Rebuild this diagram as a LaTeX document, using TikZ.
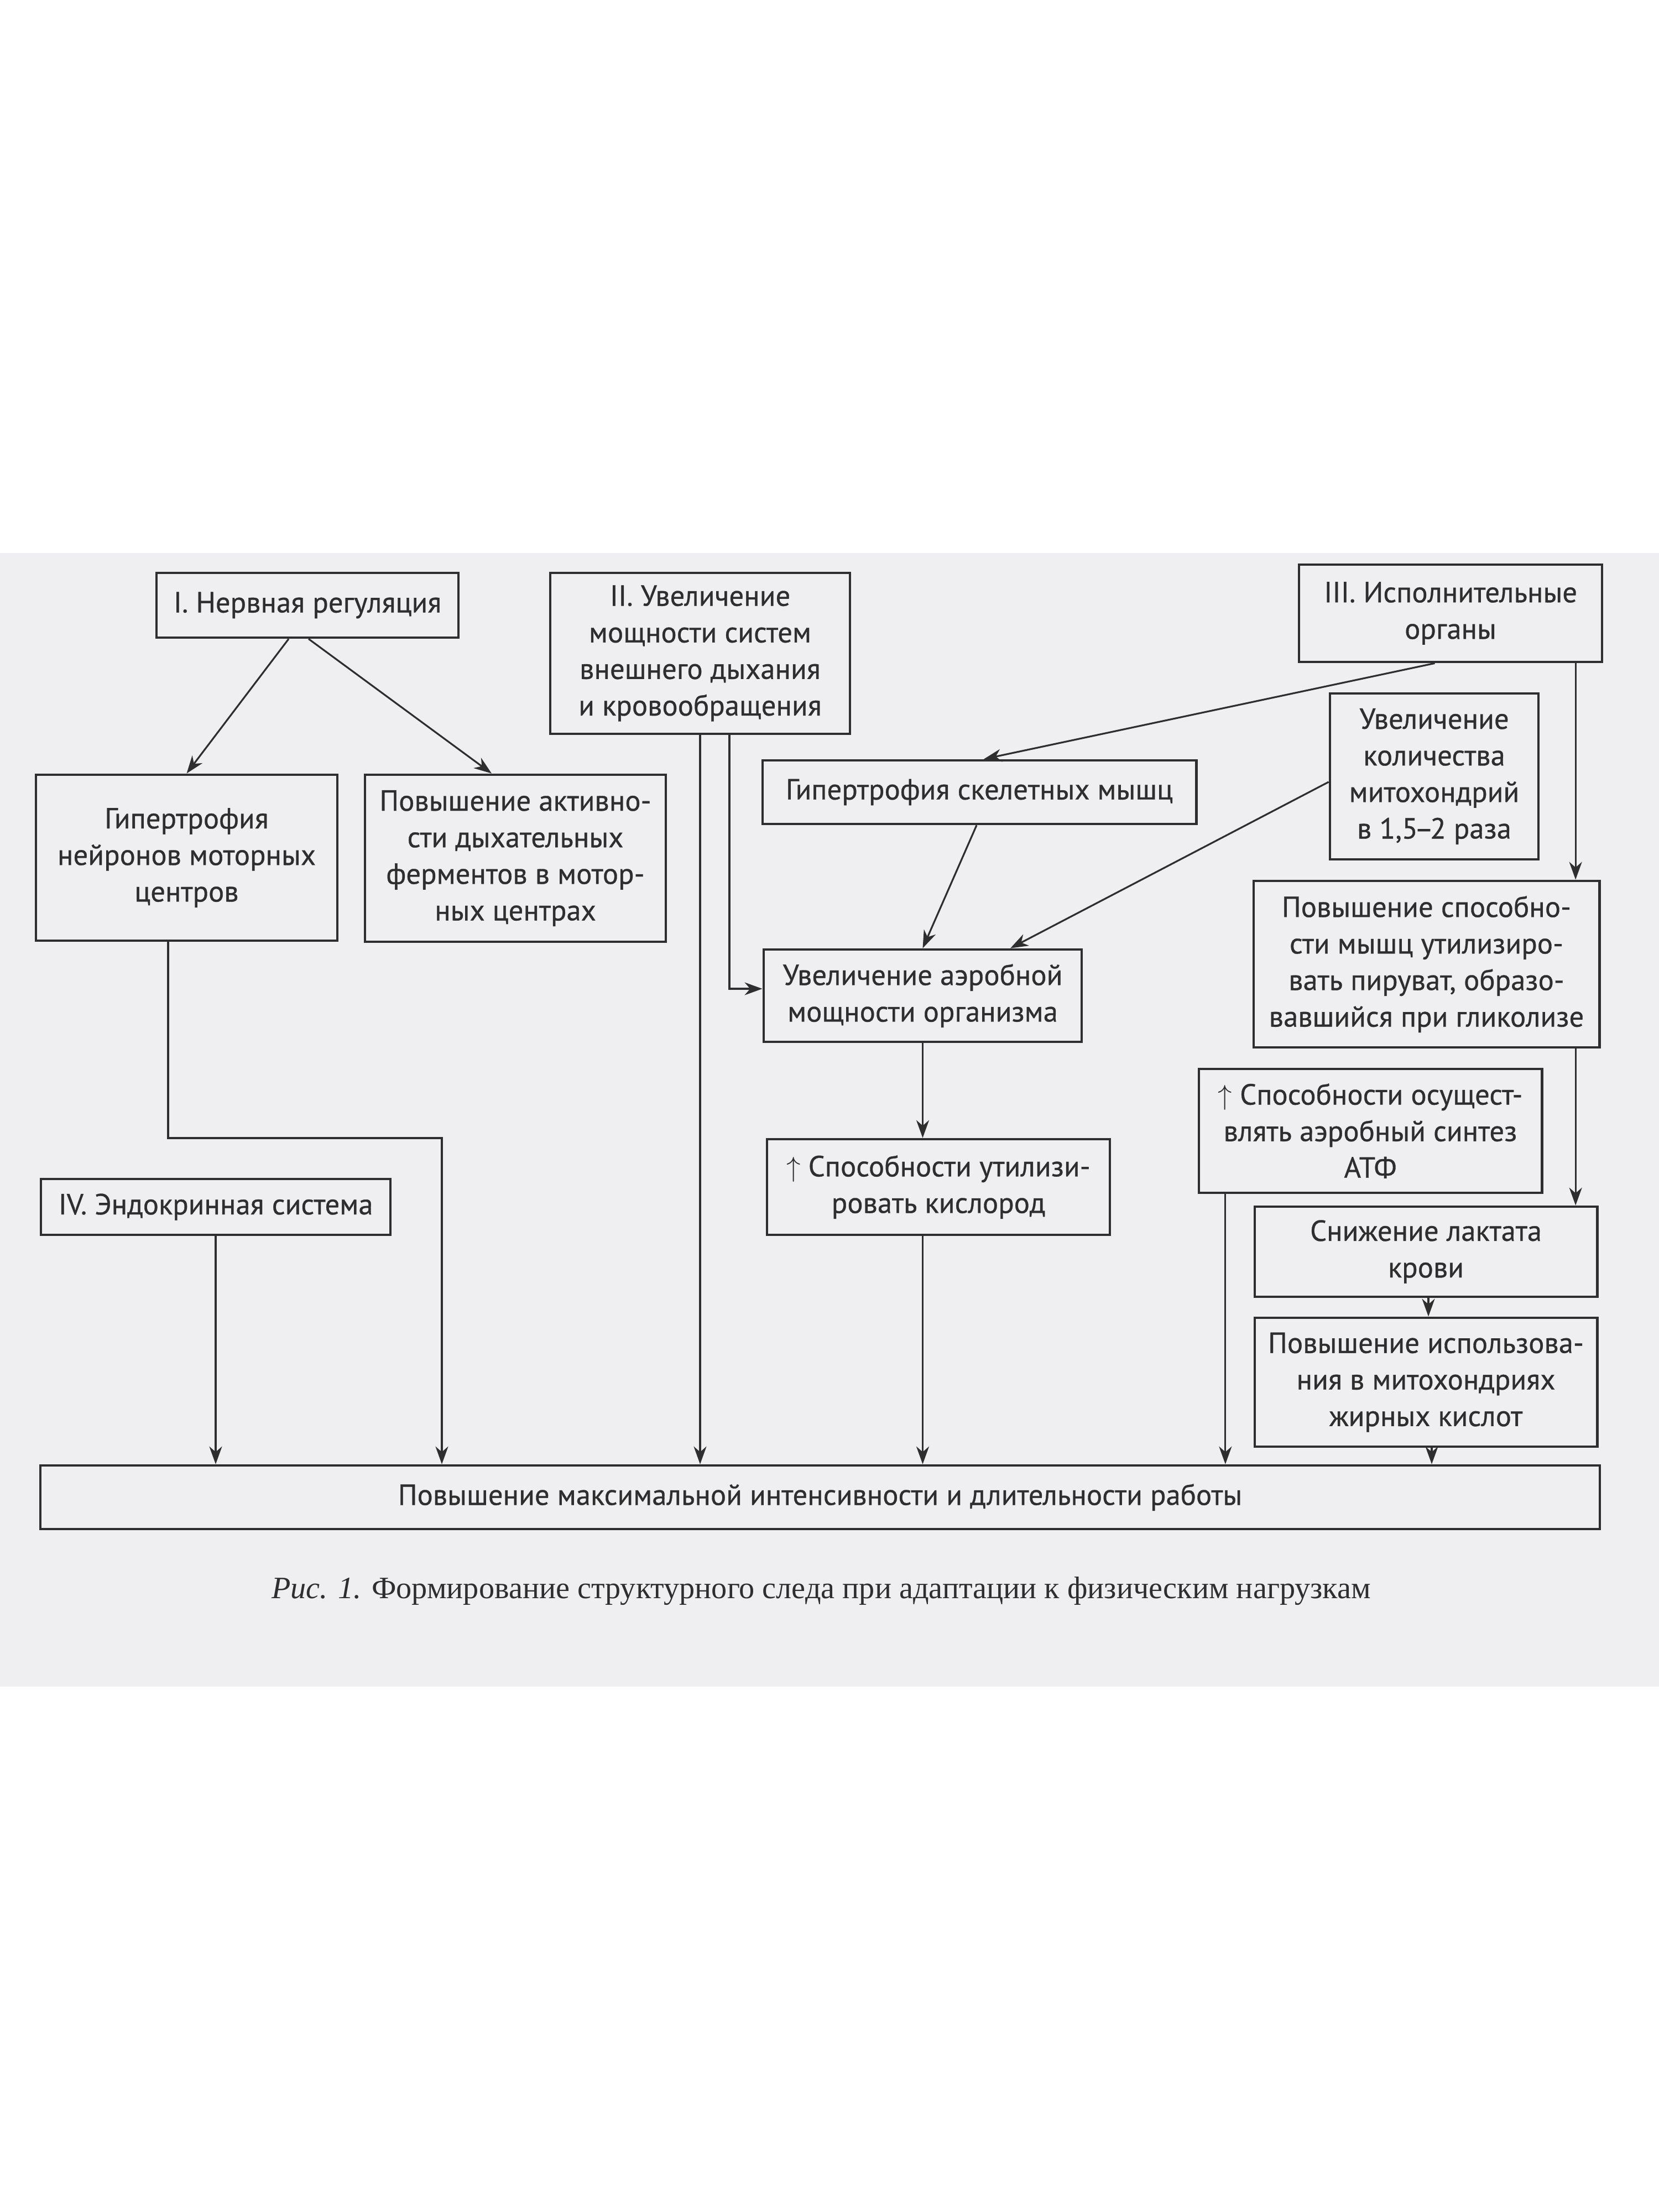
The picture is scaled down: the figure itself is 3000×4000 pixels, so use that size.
\documentclass[tikz,border=0pt]{standalone}
\usepackage{fontspec}
\setmainfont{Liberation Serif}
\newfontfamily\boxfont[FakeBold=0.6]{PT Sans}
\usetikzlibrary{arrows.meta}

\definecolor{ink}{HTML}{2E2E2E}
\definecolor{scan}{HTML}{EFEFF2}

\begin{document}
\begin{tikzpicture}[x=0.01cm, y=-0.01cm,
  block/.style={draw=ink, line width=1.3pt, text=ink, align=center, inner sep=0pt,
    font=\boxfont\fontsize{15}{18.8}\selectfont},
  arr/.style={draw=ink, line width=0.9pt, -{Stealth[length=3.2mm, width=2.3mm, inset=1mm]}}]
\useasboundingbox (0,0) rectangle (3000,4000);
\fill[scan] (0,1000) rectangle (3000,3050);

% levels I--III
\node[block, minimum width=5.46cm, minimum height=1.17cm] (nerv) at (556,1094.5) {I. Нервная регуляция};
\node[block, minimum width=5.42cm, minimum height=2.91cm] (dyh) at (1266,1181.5) {II. Увеличение\\мощности систем\\внешнего дыхания\\и кровообращения};
\node[block, minimum width=5.48cm, minimum height=1.76cm] (isp) at (2623,1109) {III. Исполнительные\\органы};

\node[block, minimum width=5.45cm, minimum height=3.00cm] (neur) at (337.5,1551) {Гипертрофия\\нейронов моторных\\центров};
\node[block, minimum width=5.44cm, minimum height=3.02cm] (ferm) at (932,1552) {Повышение активно-\\сти дыхательных\\ферментов в мотор-\\ных центрах};
\node[block, minimum width=7.84cm, minimum height=1.15cm] (skel) at (1771,1432.5) {Гипертрофия скелетных мышц};
\node[block, minimum width=3.77cm, minimum height=3.00cm] (mito) at (2593.5,1404) {Увеличение\\количества\\митохондрий\\в 1,5\kern-0.12em–\kern-0.12em2 раза};
\node[block, minimum width=6.25cm, minimum height=3.01cm] (piru) at (2579.5,1743.5) {Повышение способно-\\сти мышц утилизиро-\\вать пируват, образо-\\вавшийся при гликолизе};
\node[block, minimum width=5.75cm, minimum height=1.67cm] (aer) at (1668.5,1800.5) {Увеличение аэробной\\мощности организма};
\node[block, minimum width=6.20cm, minimum height=1.73cm] (oxy) at (1697,2146.5) {$\uparrow$ Способности утилизи-\\ровать кислород};
\node[block, minimum width=6.20cm, minimum height=2.24cm] (atp) at (2478,2045) {$\uparrow$ Способности осущест-\\влять аэробный синтез\\АТФ};
\node[block, minimum width=6.19cm, minimum height=1.63cm] (lakt) at (2578.5,2263.5) {Снижение лактата\\крови};
\node[block, minimum width=6.19cm, minimum height=2.33cm] (zhir) at (2578.5,2499.5) {Повышение использова-\\ния в митохондриях\\жирных кислот};
\node[block, minimum width=6.32cm, minimum height=1.01cm] (endo) at (390,2182.5) {IV. Эндокринная система};
\node[block, minimum width=28.18cm, minimum height=1.15cm] (work) at (1483,2707.5) {Повышение максимальной интенсивности и длительности работы};

\node[anchor=base, text=ink, font=\fontsize{16}{19}\selectfont] (capt) at (1485,2890) {\textit{Рис. 1.} Формирование структурного следа при адаптации к физическим нагрузкам};

% connectors
\coordinate (bendN) at (799,2058);
\draw[arr] ([xshift=-0.34cm]nerv.south) -- (neur.north);
\draw[arr] ([xshift=0.02cm]nerv.south) -- ([xshift=-0.43cm]ferm.north);
\draw[arr] ([xshift=-0.335cm]neur.south) |- (bendN) -- (bendN |- work.north);
\draw[arr] (endo.south) -- (endo.south |- work.north);
\draw[arr] (dyh.south) -- (dyh.south |- work.north);
\draw[arr] ([xshift=0.53cm]dyh.south) |- ([yshift=0.125cm]aer.west);
\draw[arr] ([xshift=-0.285cm]isp.south) -- ([xshift=0.08cm]skel.north);
\draw[arr] ([xshift=2.26cm]isp.south) -- ([xshift=2.26cm]isp.south |- piru.north);
\draw[arr] ([xshift=2.695cm]piru.south) -- ([xshift=2.695cm]piru.south |- lakt.north);
\draw[arr] ([yshift=-0.1cm]mito.west) -- ([xshift=1.585cm]aer.north);
\draw[arr] ([xshift=-0.05cm]skel.south) -- (aer.north);
\draw[arr] (aer.south) -- (aer.south |- oxy.north);
\draw[arr] (aer.south |- oxy.south) -- (aer.south |- work.north);
\draw[arr] ([xshift=-2.62cm]atp.south) -- ([xshift=-2.62cm]atp.south |- work.north);
\draw[arr] ([xshift=0.045cm]lakt.south) -- ([xshift=0.045cm]lakt.south |- zhir.north);
\draw[arr] ([xshift=0.105cm]zhir.south) -- ([xshift=0.105cm]zhir.south |- work.north);
\end{tikzpicture}
\end{document}
